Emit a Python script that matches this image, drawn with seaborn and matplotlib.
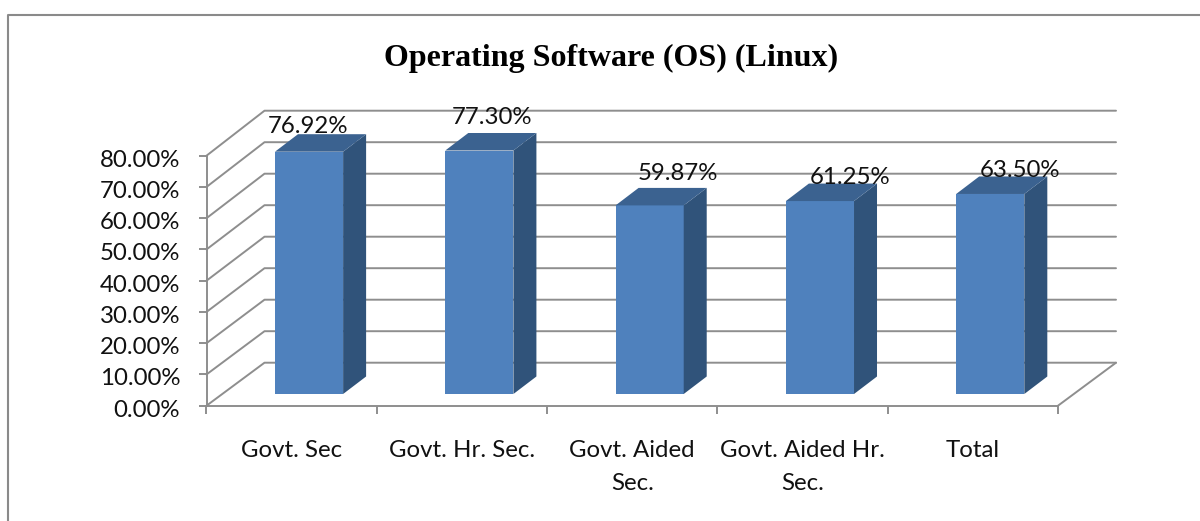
import matplotlib
matplotlib.use("Agg")
import matplotlib.pyplot as plt
import pandas as pd
import seaborn as sns
from matplotlib.lines import Line2D
from matplotlib.patches import Polygon
from matplotlib.transforms import ScaledTranslation

# Chart data
school_types = ["Govt. Sec", "Govt. Hr. Sec.", "Govt. Aided\nSec.", "Govt. Aided Hr.\nSec.", "Total"]
linux_share = [76.92, 77.30, 59.87, 61.25, 63.50]
y_ticks = [0, 10, 20, 30, 40, 50, 60, 70, 80]

# Layout of the fake 3D box, in pixels of the 1200x521 picture
W, H = 1200, 521
FRONT_X0, FRONT_X1 = 206.5, 1058
FRONT_Y0, FRONT_Y80 = 405.7, 155.7
WALL_DX, WALL_DY = 58, 43
WALL_SCALE = 252 / 250
BAR_PLANE_DX, BAR_PLANE_DY = 17.4, 11.7
BAR_PX_PER_UNIT = 3.15
BAR_DX, BAR_DY = 23, 17.5

# Label nudges (px) from the bar's top centre, right and up
LABEL_NUDGE = [(-1, 8), (13, 16), (28, 14), (30, 6), (30, 6)]

GREY = "#8e8e8e"
FRONT = "#4f81bd"
TOP = "#3b6290"
SIDE = "#30537a"
FONT_SIZE = 17.3

sns.set_theme(style="white")
plt.rcParams["font.family"] = ["Lato", "DejaVu Sans"]

df = pd.DataFrame({"school": school_types, "share": linux_share})

fig = plt.figure(figsize=(W / 100, H / 100), dpi=100, facecolor="white")


def px_axes(x0, x1, y_bottom, y_top):
    return fig.add_axes([x0 / W, 1 - y_bottom / H, (x1 - x0) / W, (y_bottom - y_top) / H])


# Front plane: holds the axis, ticks and the sheared gridlines
ax = px_axes(FRONT_X0, FRONT_X1, FRONT_Y0, FRONT_Y80)
ax.set_xlim(-0.5, 4.5)
ax.set_ylim(0, 80)
ax.patch.set_alpha(0)
sns.despine(ax=ax, top=True, right=True)
for s in ["left", "bottom"]:
    ax.spines[s].set_color(GREY)
    ax.spines[s].set_linewidth(1.4)

ax.set_yticks(y_ticks, labels=[f"{v:.2f}%" for v in y_ticks])
ax.set_xticks(range(len(school_types)), labels=school_types, linespacing=1.7)
ax.set_xticks([i - 0.5 for i in range(len(school_types) + 1)], minor=True)
ax.tick_params(axis="y", length=6, width=1.4, color=GREY, pad=13, labelsize=FONT_SIZE, labelcolor="#111111", left=True)
ax.tick_params(axis="x", which="major", length=0, pad=24.5, labelsize=FONT_SIZE, labelcolor="#111111")
ax.tick_params(axis="x", which="minor", length=6, width=1.4, color=GREY, bottom=True)

# y labels sit a little under their ticks in the original
shift = ScaledTranslation(0, -2.5 / 100, fig.dpi_scale_trans)
for lab in ax.get_yticklabels():
    lab.set_transform(lab.get_transform() + shift)

ddx = WALL_DX / ((FRONT_X1 - FRONT_X0) / 5)
ddy = WALL_DY / ((FRONT_Y0 - FRONT_Y80) / 80)
for v in y_ticks:
    back = v * WALL_SCALE + ddy
    ax.plot([-0.5, -0.5 + ddx, 4.5 + ddx], [v, back, back], color=GREY, lw=1.4, clip_on=False, zorder=1)
ax.plot([4.5, 4.5 + ddx], [0, ddy], color=GREY, lw=1.4, clip_on=False, zorder=1)

# Bars sit on a plane part way into the box
bar_ax = px_axes(FRONT_X0 + BAR_PLANE_DX, FRONT_X1 + BAR_PLANE_DX,
                 FRONT_Y0 - BAR_PLANE_DY, FRONT_Y0 - BAR_PLANE_DY - 80 * BAR_PX_PER_UNIT)
sns.barplot(data=df, x="school", y="share", color=FRONT, saturation=1, width=0.4, linewidth=0, ax=bar_ax)
bar_ax.set_xlim(-0.5, 4.5)
bar_ax.set_ylim(0, 80)
bar_ax.axis("off")

bx = BAR_DX / ((FRONT_X1 - FRONT_X0) / 5)
by = BAR_DY / BAR_PX_PER_UNIT
for bar, val, (nx, ny) in zip(bar_ax.patches, linux_share, LABEL_NUDGE):
    x0 = bar.get_x()
    x1 = x0 + bar.get_width()
    top = bar.get_height()
    bar_ax.add_patch(Polygon([(x1, 0), (x1 + bx, by), (x1 + bx, top + by), (x1, top)],
                             facecolor=SIDE, edgecolor="none", clip_on=False))
    bar_ax.add_patch(Polygon([(x0, top), (x0 + bx, top + by), (x1 + bx, top + by), (x1, top)],
                             facecolor=TOP, edgecolor="none", clip_on=False))
    bar_ax.annotate(f"{val:.2f}%", xy=((x0 + x1) / 2, top + by), xytext=(nx * 0.72, ny * 0.72),
                    textcoords="offset points", ha="center", va="center",
                    fontsize=FONT_SIZE, color="#111111", annotation_clip=False, zorder=5)

fig.text(611 / W, 1 - 58 / H, "Operating Software (OS) (Linux)", ha="center", va="center",
         family=["Liberation Serif"], fontweight="bold", fontsize=23, color="black")

# Outer chart border, only top and left are in the crop
fig.add_artist(Line2D([7.5 / W, 7.5 / W, 1], [0, 1 - 15 / H, 1 - 15 / H], color="#8a8a8a", lw=1.5))

fig.savefig("out.png", dpi=100)
